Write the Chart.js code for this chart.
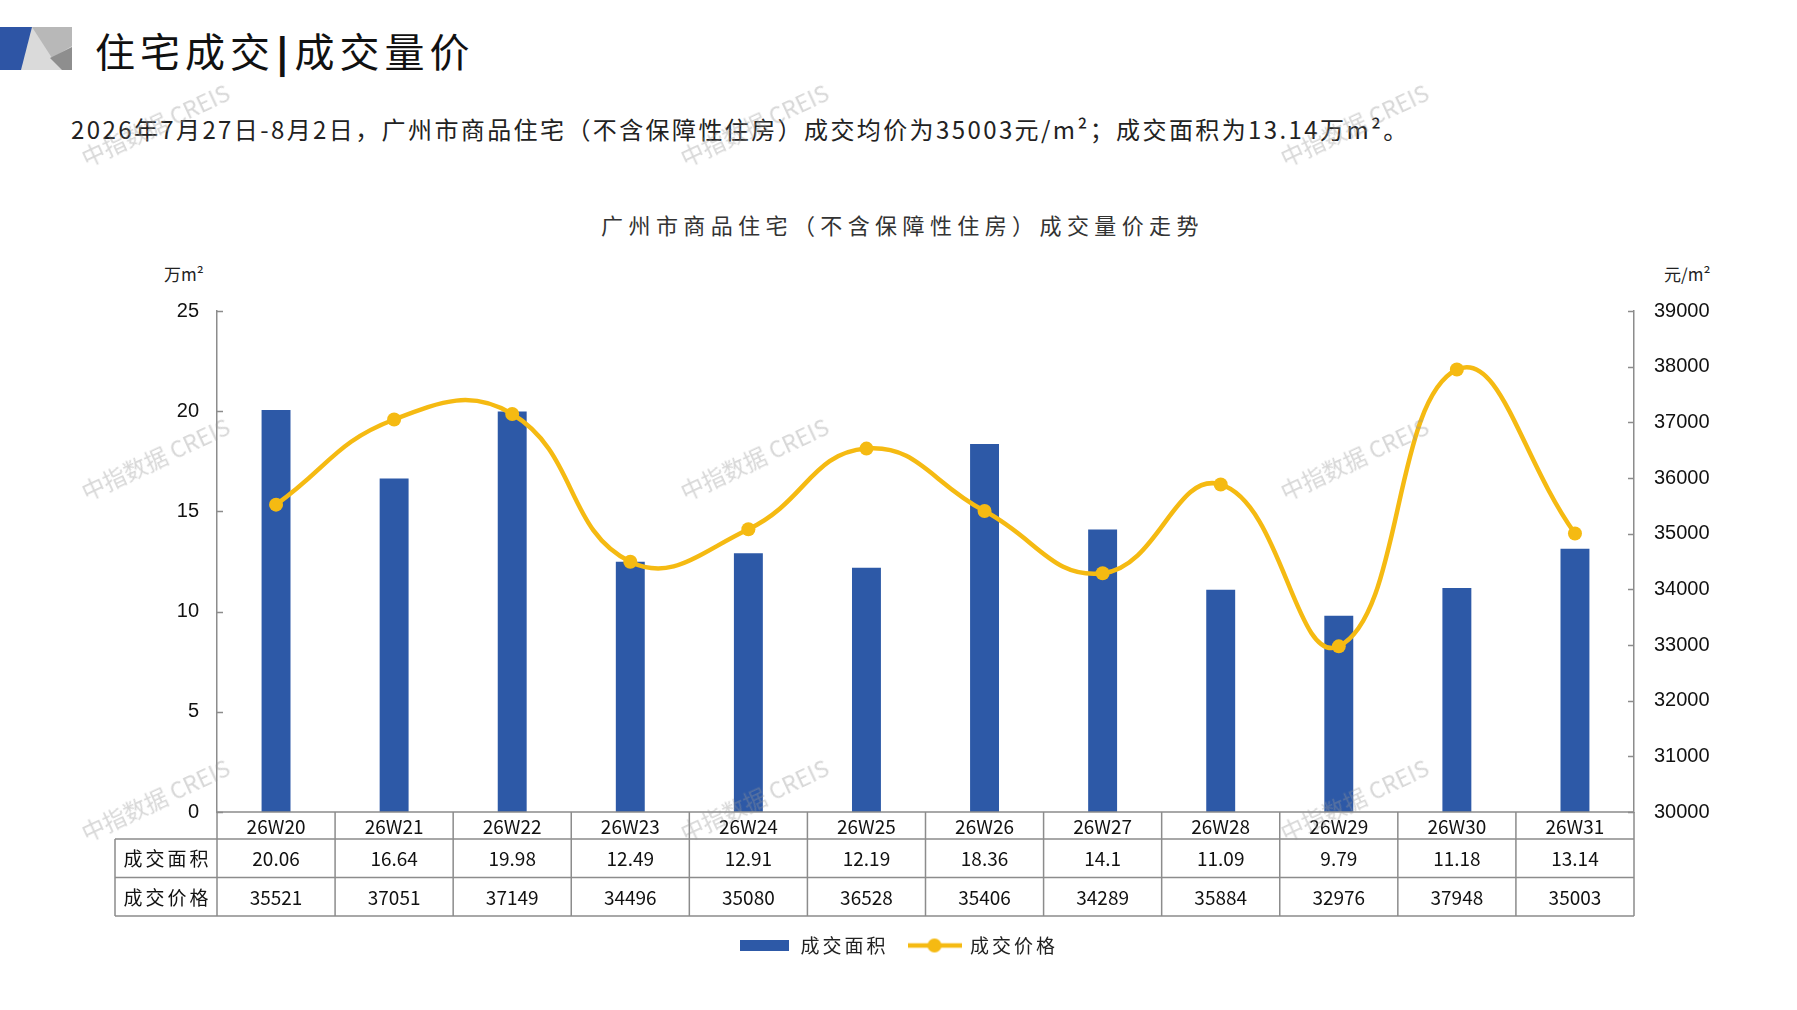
<!DOCTYPE html>
<html><head><meta charset="utf-8">
<script src="https://cdn.jsdelivr.net/npm/chart.js@4.4.1/dist/chart.umd.min.js"></script>
<style>
html,body{margin:0;padding:0;background:#fff;width:1797px;height:1010px;overflow:hidden;}
#wrap{position:relative;width:1797px;height:1010px;background:#fff;}
#c{position:absolute;left:0;top:0;}
.t{position:absolute;white-space:nowrap;font-family:"Noto Sans CJK SC","Noto Sans",sans-serif;line-height:1;}
#title{left:95px;top:30px;font-size:40px;letter-spacing:5px;color:#111;}
#title b{font-weight:900;font-family:"DejaVu Sans",sans-serif;}
#sub{left:71px;top:117px;font-size:24px;letter-spacing:2.4px;color:#222;}
#ctitle{left:0;width:1797px;text-align:center;top:213px;font-size:22px;letter-spacing:5.4px;color:#333;padding-left:4px;}
#uL{left:164px;top:265px;font-size:17px;color:#222;}
#uR{left:1664px;top:265px;font-size:17px;color:#222;}
.wm{position:absolute;white-space:nowrap;font-family:"Noto Sans CJK SC","Liberation Sans",sans-serif;font-size:23px;color:rgba(150,150,150,0.38);transform:translate(-50%,-50%) rotate(-25deg);pointer-events:none;}
</style></head>
<body>
<div id="wrap">
<svg style="position:absolute;left:0;top:0" width="80" height="80">
  <polygon points="0,27 72,27 72,70 0,70" fill="#DADADA"/>
  <polygon points="32,27 72,27 72,46 52,58" fill="#B8B8B8"/>
  <polygon points="50,58 72,47 72,70 62,70" fill="#8E8E8E"/>
  <polygon points="0,27 32,27 21,70 0,70" fill="#2E55A5"/>
</svg>
<div class="t" id="title">住宅成交<b>|</b>成交量价</div>
<div class="t" id="sub">2026年7月27日-8月2日，广州市商品住宅（不含保障性住房）成交均价为35003元/m²；成交面积为13.14万m²。</div>
<div class="t" id="ctitle">广州市商品住宅（不含保障性住房）成交量价走势</div>
<div class="t" id="uL">万m²</div>
<div class="t" id="uR">元/m²</div>
<canvas id="c" width="1797" height="1010"></canvas>
<div class="wm" style="left:155px;top:124px">中指数据 CREIS</div>
<div class="wm" style="left:754px;top:124px">中指数据 CREIS</div>
<div class="wm" style="left:1354px;top:124px">中指数据 CREIS</div>
<div class="wm" style="left:155px;top:458px">中指数据 CREIS</div>
<div class="wm" style="left:754px;top:458px">中指数据 CREIS</div>
<div class="wm" style="left:1354px;top:458px">中指数据 CREIS</div>
<div class="wm" style="left:155px;top:799px">中指数据 CREIS</div>
<div class="wm" style="left:754px;top:799px">中指数据 CREIS</div>
<div class="wm" style="left:1354px;top:799px">中指数据 CREIS</div>
</div>
<script>
// ---- data ----
const categories = ['26W20','26W21','26W22','26W23','26W24','26W25','26W26','26W27','26W28','26W29','26W30','26W31'];
const areaValues = [20.06, 16.64, 19.98, 12.49, 12.91, 12.19, 18.36, 14.1, 11.09, 9.79, 11.18, 13.14];
const areaLabels = ['20.06','16.64','19.98','12.49','12.91','12.19','18.36','14.1','11.09','9.79','11.18','13.14'];
const priceValues = [35521, 37051, 37149, 34496, 35080, 36528, 35406, 34289, 35884, 32976, 37948, 35003];
const seriesNames = ['成交面积', '成交价格'];
const leftAxis = {min: 0, max: 25, step: 5};
const rightAxis = {min: 30000, max: 39000, step: 1000};

// ---- styles ----
const BLUE = '#2D59A7';
const GOLD = '#F5BA12';
const AXIS = '#8C8C8C';
const CJK = '"Noto Sans CJK SC", sans-serif';
const LATIN = '"Liberation Sans", Arial, sans-serif';
const ROW1_H = 27, ROW_H = 38.5, LABEL_W = 102;

function makeIcon(w, h, draw){ const c = document.createElement('canvas'); c.width = w; c.height = h; draw(c.getContext('2d')); return c; }
const barIcon = makeIcon(49, 11, g => { g.fillStyle = BLUE; g.fillRect(0, 0, 49, 11); });
const lineIcon = makeIcon(54, 16, g => {
  g.strokeStyle = GOLD; g.lineWidth = 4.5; g.beginPath(); g.moveTo(0, 8); g.lineTo(54, 8); g.stroke();
  g.fillStyle = GOLD; g.beginPath(); g.arc(27, 8, 7, 0, Math.PI * 2); g.fill();
});

const tablePlugin = {
  id: 'dataTable',
  afterDraw(chart) {
    const {ctx, chartArea: a, scales} = chart;
    const x = scales.x;
    const n = categories.length;
    const colW = (a.right - a.left) / n;
    const top = a.bottom, r1 = top + ROW1_H, r2 = r1 + ROW_H, r3 = r2 + ROW_H;
    const labelLeft = a.left - LABEL_W;
    ctx.save();
    ctx.strokeStyle = AXIS; ctx.lineWidth = 1.5;
    ctx.beginPath();
    scales.y.ticks.forEach((t, i) => { const py = Math.round(scales.y.getPixelForTick(i)) + 0.5; ctx.moveTo(a.left, py); ctx.lineTo(a.left + 6, py); });
    scales.y1.ticks.forEach((t, i) => { const py = Math.round(scales.y1.getPixelForTick(i)) + 0.5; ctx.moveTo(a.right, py); ctx.lineTo(a.right - 6, py); });
    ctx.stroke();
    ctx.beginPath();
    ctx.moveTo(a.left, top); ctx.lineTo(a.right, top);
    [r1, r2, r3].forEach(yy => { ctx.moveTo(labelLeft, yy); ctx.lineTo(a.right, yy); });
    ctx.moveTo(labelLeft, r1); ctx.lineTo(labelLeft, r3);
    for (let i = 0; i <= n; i++) {
      const xx = i === n ? a.right : x.getPixelForValue(i) - colW / 2;
      ctx.moveTo(xx, top); ctx.lineTo(xx, r3);
    }
    ctx.stroke();
    ctx.fillStyle = '#111';
    ctx.textAlign = 'center'; ctx.textBaseline = 'middle';
    ctx.font = '19px ' + CJK;
    categories.forEach((c, i) => {
      const cx = x.getPixelForValue(i);
      ctx.fillText(c, cx, (top + r1) / 2 + 1);
      ctx.fillText(areaLabels[i], cx, (r1 + r2) / 2 + 1);
      ctx.fillText(String(priceValues[i]), cx, (r2 + r3) / 2 + 1);
    });
    const lx = (labelLeft + a.left) / 2;
    ctx.letterSpacing = '3px';
    ctx.fillText(seriesNames[0], lx + 1.5, (r1 + r2) / 2 + 1);
    ctx.fillText(seriesNames[1], lx + 1.5, (r2 + r3) / 2 + 1);
    ctx.restore();
  }
};

const chart = new Chart(document.getElementById('c'), {
  type: 'bar',
  data: {
    labels: categories,
    datasets: [
      {
        type: 'line', label: seriesNames[1], data: priceValues, yAxisID: 'y1',
        borderColor: GOLD, backgroundColor: GOLD, borderWidth: 4.5,
        pointRadius: 7, pointBackgroundColor: GOLD, pointBorderColor: GOLD, pointBorderWidth: 0,
        tension: 0.45, fill: false
      },
      {
        type: 'bar', label: seriesNames[0], data: areaValues, yAxisID: 'y',
        backgroundColor: BLUE, borderWidth: 0,
        categoryPercentage: 1, barPercentage: 0.245
      }
    ]
  },
  options: {
    responsive: false, animation: false, devicePixelRatio: 1,
    layout: {padding: {top: 311, left: 0, right: 0, bottom: 45}},
    plugins: {
      tooltip: {enabled: false},
      legend: {
        position: 'bottom',
        labels: {
          usePointStyle: true, pointStyleWidth: 52, padding: 20,
          font: {family: CJK, size: 19}, color: '#222',
          generateLabels(chart) {
            const items = Chart.defaults.plugins.legend.labels.generateLabels(chart);
            const bar = items.find(it => it.datasetIndex === 1);
            const line = items.find(it => it.datasetIndex === 0);
            bar.pointStyle = barIcon; line.pointStyle = lineIcon;
            return [bar, line];
          }
        }
      }
    },
    scales: {
      x: {
        ticks: {display: false}, grid: {display: false, drawTicks: false}, border: {display: false},
        afterFit(s) { s.height = 104; }
      },
      y: {
        position: 'left', min: leftAxis.min, max: leftAxis.max,
        ticks: {stepSize: leftAxis.step, padding: 18, color: '#111', font: {family: LATIN, size: 20}, callback: v => String(v)},
        grid: {display: false, drawTicks: false}, border: {display: true, color: AXIS, width: 1.5},
        afterFit(s) { s.width = 217; }
      },
      y1: {
        position: 'right', min: rightAxis.min, max: rightAxis.max,
        ticks: {stepSize: rightAxis.step, padding: 20, color: '#111', font: {family: LATIN, size: 20}, callback: v => String(v)},
        grid: {display: false, drawTicks: false}, border: {display: true, color: AXIS, width: 1.5},
        afterFit(s) { s.width = 163; }
      }
    }
  },
  plugins: [tablePlugin]
});

// legend text in the reference is letter-spaced; apply spacing to legend fit and draw
const lg = chart.legend;
const origFit = lg.fit.bind(lg), origDraw = lg.draw.bind(lg);
lg.fit = function () { const c = this.ctx; c.save(); c.letterSpacing = '3px'; origFit(); c.restore(); };
lg.draw = function () { const c = this.ctx; c.save(); c.letterSpacing = '3px'; origDraw(); c.restore(); };
chart.update();
</script>
</body></html>
